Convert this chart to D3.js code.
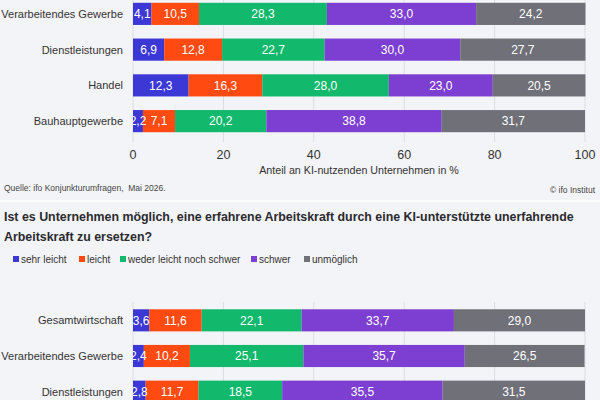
<!DOCTYPE html>
<html>
<head>
<meta charset="utf-8">
<script src="https://cdn.jsdelivr.net/npm/d3@7"></script>
<style>
    body { margin: 0; background: #f3f4f8; font-family: "Liberation Sans", Arial, sans-serif; }
    svg { display: block; }
</style>
</head>
<body>
<div id="chart"></div>
<script>
const answers = ['sehr leicht', 'leicht', 'weder leicht noch schwer', 'schwer', 'unmöglich'];
const colors = ['#3b38d6', '#ff4a12', '#12b86b', '#7c3fd1', '#707079'];

const topCategories = ['Verarbeitendes Gewerbe', 'Dienstleistungen', 'Handel', 'Bauhauptgewerbe'];
const topValues = [
    [4.1, 10.5, 28.3, 33.0, 24.2],
    [6.9, 12.8, 22.7, 30.0, 27.7],
    [12.3, 16.3, 28.0, 23.0, 20.5],
    [2.2, 7.1, 20.2, 38.8, 31.7]
];

const bottomCategories = ['Gesamtwirtschaft', 'Verarbeitendes Gewerbe', 'Dienstleistungen'];
const bottomValues = [
    [3.6, 11.6, 22.1, 33.7, 29.0],
    [2.4, 10.2, 25.1, 35.7, 26.5],
    [2.8, 11.7, 18.5, 35.5, 31.5]
];

const ticks = [0, 20, 40, 60, 80, 100];

const width = 600;
const height = 400;

const svg = d3.select('#chart').append('svg')
    .attr('width', width)
    .attr('height', height);

svg.append('rect')
    .attr('width', width)
    .attr('height', height)
    .attr('fill', '#f3f4f8');

const x = d3.scaleLinear().domain([0, 100]).range([133, 585]);
const fmt = d => d3.format('.1f')(d).replace('.', ',');

svg.append('defs').append('clipPath')
    .attr('id', 'plot-clip')
    .append('rect')
    .attr('x', x(0)).attr('y', 0)
    .attr('width', x(100) - x(0)).attr('height', height);

function drawPanel(categories, values, y0, y1, gridTop, gridBottom) {
    const y = d3.scaleBand()
        .domain(categories)
        .range([y0, y1])
        .paddingInner(0.38)
        .paddingOuter(0.19);

    const g = svg.append('g');

    // grid lines
    g.append('g').selectAll('line')
        .data(ticks)
        .enter().append('line')
        .attr('x1', d => x(d)).attr('x2', d => x(d))
        .attr('y1', gridTop).attr('y2', gridBottom)
        .attr('stroke', '#dcdde3')
        .attr('stroke-width', 1);

    const rows = categories.map((c, i) => {
        let acc = 0;
        return values[i].map((v, j) => {
            const seg = { cat: c, value: v, start: acc, end: acc + v, idx: j };
            acc += v;
            return seg;
        });
    });

    const row = g.selectAll('.row')
        .data(rows)
        .enter().append('g')
        .attr('class', 'row');

    row.selectAll('rect')
        .data(d => d)
        .enter().append('rect')
        .attr('x', d => x(d.start))
        .attr('width', d => x(d.end) - x(d.start))
        .attr('y', d => y(d.cat))
        .attr('height', y.bandwidth())
        .attr('fill', d => colors[d.idx]);

    row.append('g')
        .attr('clip-path', 'url(#plot-clip)')
        .selectAll('text')
        .data(d => d)
        .enter().append('text')
        .attr('x', d => (x(d.start) + x(d.end)) / 2)
        .attr('y', d => y(d.cat) + y.bandwidth() / 2)
        .attr('dy', '0.36em')
        .attr('text-anchor', 'middle')
        .attr('fill', '#ffffff')
        .attr('font-size', '12px')
        .text(d => fmt(d.value));

    // category labels
    g.append('g').selectAll('text')
        .data(categories)
        .enter().append('text')
        .attr('x', 123)
        .attr('y', d => y(d) + y.bandwidth() / 2)
        .attr('dy', '0.36em')
        .attr('text-anchor', 'end')
        .attr('fill', '#333333')
        .attr('font-size', '11px')
        .text(d => d);

    return y;
}

// upper panel (only the lower part is visible)
drawPanel(topCategories, topValues, -4, 139, 0, 142);

svg.append('g').selectAll('text')
    .data(ticks)
    .enter().append('text')
    .attr('x', d => x(d))
    .attr('y', 154)
    .attr('dy', '0.36em')
    .attr('text-anchor', 'middle')
    .attr('fill', '#333333')
    .attr('font-size', '12.5px')
    .text(d => d);

svg.append('text')
    .attr('x', (x(0) + x(100)) / 2)
    .attr('y', 170)
    .attr('dy', '0.36em')
    .attr('text-anchor', 'middle')
    .attr('fill', '#333333')
    .attr('font-size', '10.7px')
    .text('Anteil an KI-nutzenden Unternehmen in %');

svg.append('text')
    .attr('x', 4)
    .attr('y', 188)
    .attr('dy', '0.36em')
    .attr('fill', '#444444')
    .attr('font-size', '8.5px')
    .attr('xml:space', 'preserve')
    .text('Quelle: ifo Konjunkturumfragen,  Mai 2026.');

svg.append('text')
    .attr('x', 595)
    .attr('y', 190)
    .attr('dy', '0.36em')
    .attr('text-anchor', 'end')
    .attr('fill', '#444444')
    .attr('font-size', '8.5px')
    .text('© ifo Institut');

// separator between the two charts
svg.append('line')
    .attr('x1', 0).attr('x2', width)
    .attr('y1', 201).attr('y2', 201)
    .attr('stroke', '#fbfbfd')
    .attr('stroke-width', 2);

// lower panel title
const title = ['Ist es Unternehmen möglich, eine erfahrene Arbeitskraft durch eine KI-unterstützte unerfahrende',
    'Arbeitskraft zu ersetzen?'];
svg.append('g').selectAll('text')
    .data(title)
    .enter().append('text')
    .attr('x', 4)
    .attr('y', (d, i) => 217 + i * 20)
    .attr('dy', '0.36em')
    .attr('fill', '#2a2a2e')
    .attr('font-size', '12.4px')
    .attr('font-weight', 'bold')
    .text(d => d);

// legend
const legendX = [13, 79, 120, 251, 304];
const legend = svg.append('g').selectAll('g')
    .data(answers)
    .enter().append('g')
    .attr('transform', (d, i) => `translate(${legendX[i]},259)`);

legend.append('rect')
    .attr('x', 0).attr('y', -3)
    .attr('width', 6).attr('height', 6)
    .attr('fill', (d, i) => colors[i]);

legend.append('text')
    .attr('x', 8)
    .attr('dy', '0.36em')
    .attr('fill', '#333333')
    .attr('font-size', '10px')
    .text(d => d);

// lower panel (cut off at the bottom)
drawPanel(bottomCategories, bottomValues, 302.5, 409.5, 302, 400);
</script>
</body>
</html>
